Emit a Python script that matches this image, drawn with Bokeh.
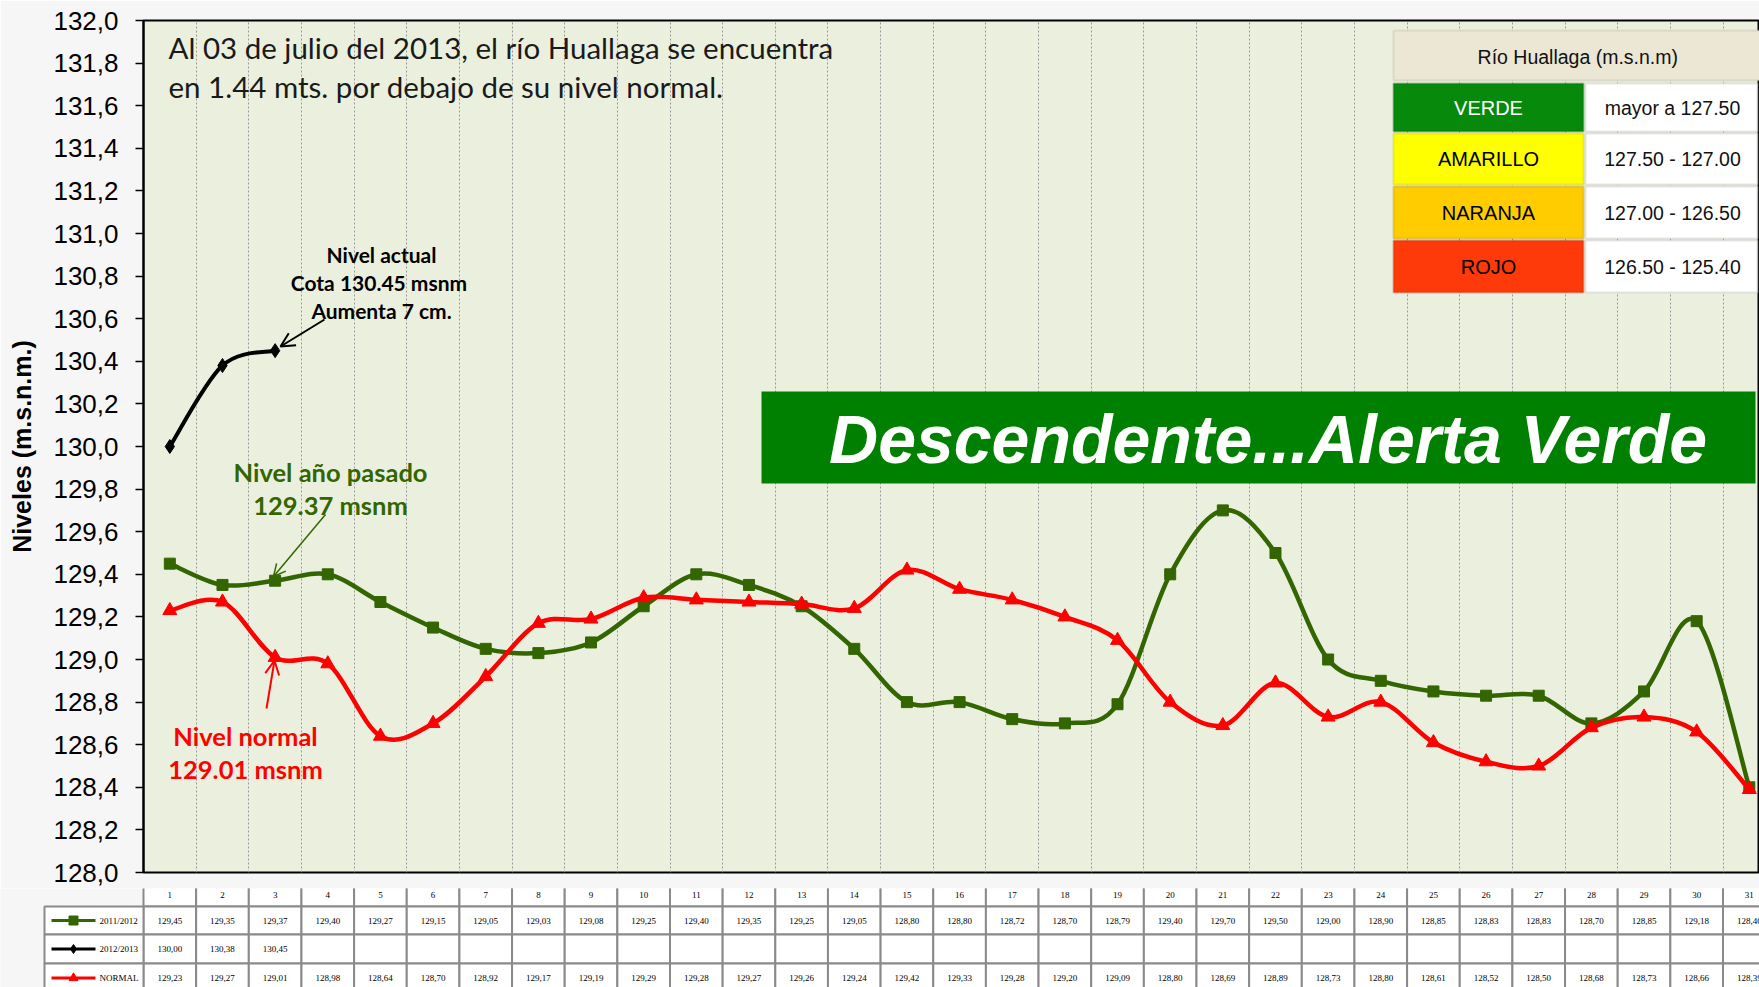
import math
from bokeh.plotting import figure
from bokeh.models import (Range1d, FixedTicker, CustomJSTickFormatter, Label, Arrow,
                          OpenHead, BoxAnnotation, ColumnDataSource)
from bokeh.layouts import column
from bokeh.embed import file_html
from bokeh.resources import INLINE
from bokeh.core.properties import value

# ---------------- data ----------------
days = list(range(1, 32))
series_names = ["2011/2012", "2012/2013", "NORMAL"]
nivel_2011_2012 = [129.45, 129.35, 129.37, 129.40, 129.27, 129.15, 129.05, 129.03, 129.08, 129.25,
                   129.40, 129.35, 129.25, 129.05, 128.80, 128.80, 128.72, 128.70, 128.79, 129.40,
                   129.70, 129.50, 129.00, 128.90, 128.85, 128.83, 128.83, 128.70, 128.85, 129.18,
                   128.40]
nivel_2012_2013 = [130.00, 130.38, 130.45]
nivel_normal = [129.23, 129.27, 129.01, 128.98, 128.64, 128.70, 128.92, 129.17, 129.19, 129.29,
                129.28, 129.27, 129.26, 129.24, 129.42, 129.33, 129.28, 129.20, 129.09, 128.80,
                128.69, 128.89, 128.73, 128.80, 128.61, 128.52, 128.50, 128.68, 128.73, 128.66,
                128.39]
y_ticks = [128.0, 128.2, 128.4, 128.6, 128.8, 129.0, 129.2, 129.4, 129.6, 129.8, 130.0,
           130.2, 130.4, 130.6, 130.8, 131.0, 131.2, 131.4, 131.6, 131.8, 132.0]
alert_levels = ["VERDE", "AMARILLO", "NARANJA", "ROJO"]
alert_ranges = ["mayor a 127.50", "127.50 - 127.00", "127.00 - 126.50", "126.50 - 125.40"]

# ---------------- layout constants ----------------
W = 1759
FRAME_TOP = 20
FRAME_BOTTOM = 872
H_MAIN = 888              # leaves room below the frame for the "128,0" label
H_TAB = 987 - H_MAIN
FRAME_LEFT = 143          # figure px
COL_W = 52.65             # px per day
PX_PER_M = (FRAME_BOTTOM - FRAME_TOP) / 4.0
X_END = 0.5 + (W - FRAME_LEFT) / COL_W
BG = "#f6f6f6"

GREEN = "#336600"
RED = "#ff0000"
BLACK = "#000000"


def fx(px):   # page px -> x data
    return 0.5 + (px - FRAME_LEFT) / COL_W


def fy(py):   # page px -> y data
    return 128 + (FRAME_BOTTOM - py) / PX_PER_M


def smooth(xs, ys):
    n = len(xs)
    d = dict(x0=[], y0=[], x1=[], y1=[], cx0=[], cy0=[], cx1=[], cy1=[])
    for i in range(n - 1):
        a = i - 1 if i > 0 else i
        b = i + 2 if i + 2 < n else i + 1
        d["x0"].append(xs[i]); d["y0"].append(ys[i])
        d["x1"].append(xs[i + 1]); d["y1"].append(ys[i + 1])
        d["cx0"].append(xs[i] + (xs[i + 1] - xs[a]) / 6.0)
        d["cy0"].append(ys[i] + (ys[i + 1] - ys[a]) / 6.0)
        d["cx1"].append(xs[i + 1] - (xs[b] - xs[i]) / 6.0)
        d["cy1"].append(ys[i + 1] - (ys[b] - ys[i]) / 6.0)
    return ColumnDataSource(d)


# ---------------- main chart ----------------
p = figure(width=W, height=H_MAIN, x_range=Range1d(0.5, X_END), y_range=Range1d(128, 132),
           output_backend="svg", toolbar_location=None, x_axis_location=None,
           min_border_left=FRAME_LEFT, min_border_right=0, min_border_top=FRAME_TOP,
           min_border_bottom=H_MAIN - FRAME_BOTTOM)
p.background_fill_color = "#ebf0de"
p.border_fill_color = BG
p.outline_line_color = "black"
p.outline_line_width = 2

p.xgrid.ticker = FixedTicker(ticks=[d + 0.5 for d in days])
p.xgrid.grid_line_color = "#9a9a9a"
p.xgrid.grid_line_dash = "2 2"
p.xgrid.grid_line_width = 1
p.ygrid.visible = False

ax = p.yaxis[0]
ax.ticker = FixedTicker(ticks=y_ticks)
ax.formatter = CustomJSTickFormatter(code="return tick.toFixed(1).replace('.', ',');")
ax.major_label_text_font = "Liberation Sans"
ax.major_label_text_font_size = "26px"
ax.major_label_text_color = "black"
ax.major_tick_out = 8
ax.major_tick_in = 0
ax.minor_tick_out = 0
ax.minor_tick_in = 0
ax.major_label_standoff = 17
ax.axis_line_width = 2
ax.axis_line_color = "black"
ax.major_tick_line_color = "black"
ax.major_tick_line_width = 1.5
ax.axis_label = "Niveles (m.s.n.m.)"
ax.axis_label_text_font = "Liberation Sans"
ax.axis_label_text_font_style = "bold"
ax.axis_label_text_font_size = "25px"
ax.axis_label_text_color = "black"
ax.axis_label_standoff = 14

# series
p.bezier(x0="x0", y0="y0", x1="x1", y1="y1", cx0="cx0", cy0="cy0", cx1="cx1", cy1="cy1",
         source=smooth(days, nivel_2011_2012), line_color=GREEN, line_width=4.5, line_cap="round")
p.scatter(days, nivel_2011_2012, marker="square", size=11, fill_color=GREEN, line_color=GREEN)

p.bezier(x0="x0", y0="y0", x1="x1", y1="y1", cx0="cx0", cy0="cy0", cx1="cx1", cy1="cy1",
         source=smooth(days, nivel_normal), line_color=RED, line_width=4.5, line_cap="round")
p.scatter(days, nivel_normal, marker="triangle", size=14, fill_color=RED, line_color=RED)

d_act = days[:len(nivel_2012_2013)]
p.bezier(x0="x0", y0="y0", x1="x1", y1="y1", cx0="cx0", cy0="cy0", cx1="cx1", cy1="cy1",
         source=smooth(d_act, nivel_2012_2013), line_color=BLACK, line_width=4, line_cap="round")
p.scatter(d_act, nivel_2012_2013, marker="diamond", size=14, fill_color=BLACK, line_color=BLACK)

# text annotations
p.add_layout(Label(x=fx(168), y=fy(47), text="Al  03 de julio del 2013, el río Huallaga se encuentra",
                   text_font="Lato", text_font_size="29.5px", text_color="#1a1a1a",
                   text_align="left", text_baseline="middle"))
p.add_layout(Label(x=fx(168), y=fy(86), text="en  1.44 mts. por debajo de su nivel normal.",
                   text_font="Lato", text_font_size="29.5px", text_color="#1a1a1a",
                   text_align="left", text_baseline="middle"))

for txt, py in [("Nivel actual", 254), ("Cota 130.45  msnm", 282), ("Aumenta 7 cm.", 310)]:
    p.add_layout(Label(x=fx(381), y=fy(py), text=txt, text_font="Lato", text_font_style="bold",
                       text_font_size="21px", text_color="black", text_align="center",
                       text_baseline="middle"))
for txt, py in [("Nivel año pasado", 471), ("129.37 msnm", 504)]:
    p.add_layout(Label(x=fx(330), y=fy(py), text=txt, text_font="Lato", text_font_style="bold",
                       text_font_size="25.5px", text_color=GREEN, text_align="center",
                       text_baseline="middle"))
for txt, py in [("Nivel normal", 735), ("129.01 msnm", 768)]:
    p.add_layout(Label(x=fx(245), y=fy(py), text=txt, text_font="Lato", text_font_style="bold",
                       text_font_size="25.5px", text_color=RED, text_align="center",
                       text_baseline="middle"))

p.add_layout(Arrow(end=OpenHead(size=14, line_color=BLACK, line_width=2),
                   x_start=fx(324), y_start=fy(319), x_end=fx(280), y_end=fy(346),
                   line_color=BLACK, line_width=2))
p.add_layout(Arrow(end=OpenHead(size=12, line_color=GREEN, line_width=1.5),
                   x_start=fx(325), y_start=fy(514), x_end=fx(273), y_end=fy(576),
                   line_color=GREEN, line_width=1.5))
p.add_layout(Arrow(end=OpenHead(size=14, line_color=RED, line_width=2),
                   x_start=fx(266), y_start=fy(708), x_end=fx(274), y_end=fy(660),
                   line_color=RED, line_width=2))

# banner
p.add_layout(BoxAnnotation(left=fx(761), right=fx(1755), top=fy(391), bottom=fy(483),
                           fill_color="#008000", fill_alpha=1, line_color=None))
p.add_layout(Label(x=fx(1277), y=fy(438), text="Descendente...Alerta  Verde",
                   text_font="Liberation Sans", text_font_style="bold italic",
                   text_font_size="68px", text_color="white", text_align="center",
                   text_baseline="middle"))

# alert legend box
p.add_layout(BoxAnnotation(left=fx(1393), right=fx(1775), top=fy(30), bottom=fy(80),
                           fill_color="#ece6d4", fill_alpha=1, line_color="#b8b09a", line_width=2))
p.add_layout(Label(x=fx(1580), y=fy(56), text="Río  Huallaga (m.s.n.m)", text_font="Liberation Sans",
                   text_font_size="19.5px", text_color="#111111", text_align="center",
                   text_baseline="middle"))
box_fill = ["#078a0b", "#ffff00", "#ffcc00", "#ff3a0a"]
box_line = ["#05600a", "#b8b800", "#b08a00", "#b02800"]
txt_col = ["white", "black", "black", "black"]
row_top = [83, 133, 186, 240]
row_bot = [131, 184, 238, 292]
for lvl, rng, fc, lc, tc, tp, bt in zip(alert_levels, alert_ranges, box_fill, box_line, txt_col,
                                         row_top, row_bot):
    p.add_layout(BoxAnnotation(left=fx(1393), right=fx(1583), top=fy(tp), bottom=fy(bt),
                               fill_color=fc, fill_alpha=1, line_color=lc, line_width=2))
    p.add_layout(BoxAnnotation(left=fx(1585), right=fx(1757), top=fy(tp), bottom=fy(bt),
                               fill_color="white", fill_alpha=1, line_color="#b0b0b0", line_width=2))
    p.add_layout(Label(x=fx(1488), y=fy((tp + bt) / 2), text=lvl, text_font="Liberation Sans",
                       text_font_size="20px", text_color=tc, text_align="center",
                       text_baseline="middle"))
    p.add_layout(Label(x=fx(1672), y=fy((tp + bt) / 2), text=rng, text_font="Liberation Sans",
                       text_font_size="19.5px", text_color="#111111", text_align="center",
                       text_baseline="middle"))

# ---------------- data table ----------------
# table y coordinates are px below the chart frame bottom
t = figure(width=W, height=H_TAB, x_range=Range1d(fx(0), X_END),
           y_range=Range1d(987 - FRAME_BOTTOM, H_MAIN - FRAME_BOTTOM),
           output_backend="svg", toolbar_location=None, x_axis_location=None, y_axis_location=None,
           min_border_left=0, min_border_right=0, min_border_top=0, min_border_bottom=0)
t.background_fill_color = BG
t.border_fill_color = BG
t.outline_line_color = None
t.xgrid.visible = False
t.ygrid.visible = False

for fig in (p, t):
    try:
        fig.frame_align = False
    except Exception as e:  # older bokeh
        print("frame_align unsupported:", e)

row_edges = [0, 34, 62, 91, 120]
GRID = "#8a8a8a"
t.quad(left=[d - 0.5 for d in days], right=[d + 0.5 for d in days],
       top=[row_edges[0]] * 31, bottom=[row_edges[1]] * 31,
       fill_color="white", line_color=GRID, line_width=2)
for r in range(3):
    t.quad(left=[d - 0.5 for d in days], right=[d + 0.5 for d in days],
           top=[row_edges[r + 1]] * 31, bottom=[row_edges[r + 2]] * 31,
           fill_color="white", line_color=GRID, line_width=2)
    t.quad(left=[fx(44)], right=[0.5], top=[row_edges[r + 1]], bottom=[row_edges[r + 2]],
           fill_color="white", line_color=GRID, line_width=2)

TFONT = value("Liberation Serif")
t.text(x=days, y=[22] * 31, text=[str(d) for d in days],
       text_font=TFONT, text_font_size=value("9px"), text_align="center",
       text_baseline="middle", text_color="black")


def fmt(v):
    return f"{v:.2f}".replace(".", ",")


all_series = [nivel_2011_2012, nivel_2012_2013, nivel_normal]
colors = [GREEN, BLACK, RED]
markers = ["square", "diamond", "triangle"]
for r, (vals, nm, col, mk) in enumerate(zip(all_series, series_names, colors, markers)):
    yc = (row_edges[r + 1] + row_edges[r + 2]) / 2
    dd = days[:len(vals)]
    t.text(x=dd, y=[yc] * len(dd), text=[fmt(v) for v in vals], text_font=TFONT,
           text_font_size=value("9px"), text_align="center", text_baseline="middle",
           text_color="black")
    t.segment(x0=[fx(51)], y0=[yc], x1=[fx(95)], y1=[yc], line_color=col, line_width=3)
    t.scatter(x=[fx(73)], y=[yc], marker=mk, size=9, fill_color=col, line_color=col)
    t.text(x=[fx(99)], y=[yc], text=[nm], text_font=TFONT, text_font_size=value("9px"),
           text_align="left", text_baseline="middle", text_color="black")

layout = column(p, t, spacing=0)
open("out.html", "w").write(file_html(layout, INLINE))
